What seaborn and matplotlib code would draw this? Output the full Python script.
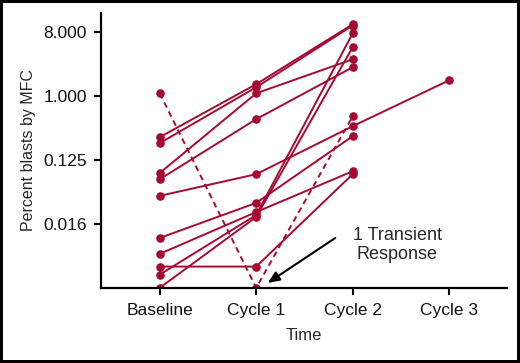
import matplotlib.pyplot as plt
import numpy as np
import pandas as pd
import seaborn as sns

time_labels = ["Baseline", "Cycle 1", "Cycle 2", "Cycle 3"]

# one entry per patient (first one is the transient responder)
baseline = [1.10, 0.264, 0.217, 0.082, 0.067, 0.039, 0.0099, 0.0059, 0.0039, 0.0030, 0.00195]
cycle1 = [0.00195, 1.48, 1.34, 1.10, 0.474, 0.079, 0.031, 0.023, 0.0039, 0.0209, 0.0196]
cycle2 = [0.52, 10.4, 10.0, 3.33, 2.57, 0.377, 0.272, 0.087, 0.079, 7.74, 4.92]
cycle3 = [np.nan, np.nan, np.nan, np.nan, np.nan, 1.68, np.nan, np.nan, np.nan, np.nan, np.nan]
response = ["transient"] + ["sustained"] * 10

ytick_values = [0.015625, 0.125, 1.0, 8.0]
ytick_labels = ["0.016", "0.125", "1.000", "8.000"]

rows = []
for p in range(len(baseline)):
    for t, serie in enumerate([baseline, cycle1, cycle2, cycle3]):
        v = serie[p]
        if not np.isnan(v):
            rows.append({"patient": p, "time": t, "blasts": v, "response": response[p]})
df = pd.DataFrame(rows)

sns.set_style("ticks")
plt.rcParams['font.family'] = ['Liberation Sans', 'DejaVu Sans']

rojo = '#a50a30'

fig = plt.figure(figsize=(5.2, 3.63), dpi=100)
ax = fig.add_axes([0.194, 0.207, 0.781, 0.757])

sns.lineplot(data=df, x="time", y="blasts", units="patient", estimator=None, sort=False,
             style="response", dashes={"sustained": "", "transient": (3, 2.2)},
             markers={"sustained": "o", "transient": "o"},
             color=rojo, linewidth=1.4, markersize=6.2, markeredgewidth=0,
             legend=False, ax=ax)

ax.set_yscale('log', base=2)
ax.set_ylim(0.00195, 15)
ax.set_xlim(-0.61, 3.6)
ax.set_yticks(ytick_values)
ax.set_yticklabels(ytick_labels)
ax.yaxis.set_minor_locator(plt.NullLocator())
ax.set_xticks(range(len(time_labels)))
ax.set_xticklabels(time_labels)

sns.despine(ax=ax)
for s in ['left', 'bottom']:
    ax.spines[s].set_linewidth(1.6)
    ax.spines[s].set_color('black')
ax.tick_params(axis='both', length=5, width=1.5, color='black', labelsize=12.5, labelcolor='#111111')
ax.tick_params(axis='x', pad=6)
ax.tick_params(axis='y', pad=5)

ax.set_xlabel("Time", fontsize=12, labelpad=7)
ax.set_ylabel("Percent blasts by MFC", fontsize=11.5, labelpad=5)

ax.text(2.46, 0.0079, "1 Transient\nResponse", ha='center', va='center', fontsize=13)
ax.annotate("", xy=(1.12, 0.00229), xytext=(1.82, 0.0099),
            arrowprops=dict(arrowstyle='-|>,head_length=0.7,head_width=0.3', color='black',
                            lw=1.5, shrinkA=0, shrinkB=0))

fig.patch.set_edgecolor('black')
fig.patch.set_linewidth(4)
fig.savefig("out.png", dpi=100)
